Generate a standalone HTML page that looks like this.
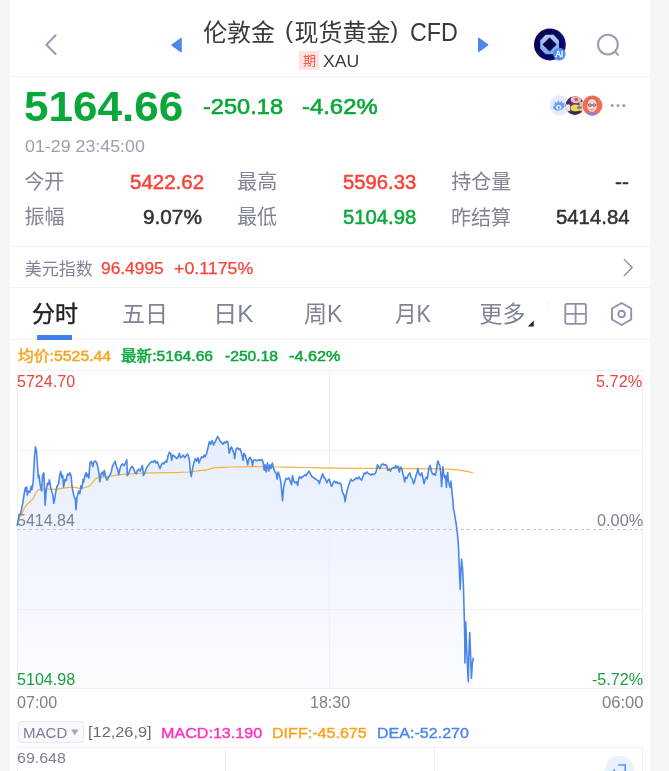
<!DOCTYPE html>
<html lang="zh-CN">
<head>
<meta charset="utf-8">
<title>伦敦金 (现货黄金) CFD</title>
<style>
*{margin:0;padding:0;box-sizing:border-box}
html,body{width:669px;height:771px;overflow:hidden;background:#f6f6f6}
body{font-family:"Liberation Sans","Noto Sans CJK SC",sans-serif;color:#222;position:relative}
#app{position:absolute;left:0;top:0;width:669px;height:771px;overflow:hidden}
#panel{position:absolute;left:10px;top:0;width:640px;height:771px;background:#fff}
.t{position:absolute;white-space:nowrap;line-height:1;transform-origin:0 0}
.hl{position:absolute;left:10px;width:640px;height:1px;background:#f2f2f8}
.abs{position:absolute}
svg{position:absolute;left:0;top:0;overflow:visible}
</style>
</head>
<body>
<div id="app">
<div id="panel"></div>
<div class="hl" style="top:76px"></div>
<div class="hl" style="top:246px"></div>
<div class="hl" style="top:287px"></div>
<div class="hl" style="top:339px"></div>
<div class="abs" id="badgebg" style="left:299.4px;top:50.6px;width:19.3px;height:19.4px;background:#fde2e0"></div>
<div class="abs" id="tabline" style="left:37px;top:335px;width:35px;height:4.5px;background:#4080ea"></div>
<div class="abs" id="macdbtn" style="left:17.6px;top:721.4px;width:66.6px;height:21.7px;background:#f8f9fd;border:1px solid #e6e8f3;border-radius:3px"></div>
<svg id="chart" width="669" height="771" viewBox="0 0 669 771">
<defs><linearGradient id="fg" x1="0" y1="430" x2="0" y2="688" gradientUnits="userSpaceOnUse"><stop offset="0" stop-color="#e6eefc"/><stop offset="1" stop-color="#fbfcff"/></linearGradient></defs>
<path d="M17.3,525.3 L18.9,515.6 L20.8,513.0 L22.8,502.6 L24.7,491.0 L25.4,487.7 L26.0,491.0 L26.7,487.1 L27.3,494.9 L28.6,491.0 L29.9,492.3 L31.2,486.4 L31.9,489.7 L33.2,481.9 L34.5,455.9 L35.5,446.9 L36.4,450.8 L37.7,468.9 L38.3,478.0 L39.0,475.4 L40.3,485.8 L41.6,491.0 L42.5,475.4 L43.8,472.8 L44.6,492.3 L45.1,505.2 L46.1,491.0 L47.4,483.2 L48.5,484.5 L49.4,479.9 L50.7,487.1 L52.0,492.3 L52.9,494.9 L53.7,503.3 L54.6,500.0 L55.9,491.0 L57.2,485.8 L58.5,484.5 L59.7,475.4 L60.7,471.5 L62.0,478.0 L62.7,475.4 L63.6,487.1 L64.9,479.3 L66.2,480.6 L67.5,474.1 L68.8,475.4 L69.7,472.8 L71.0,475.4 L72.1,487.1 L73.4,493.6 L74.4,497.4 L75.3,498.7 L76.0,509.8 L77.0,497.4 L78.6,491.0 L79.9,493.6 L80.9,485.8 L81.8,488.4 L83.1,479.3 L83.7,481.9 L85.0,475.4 L86.1,472.8 L87.0,476.7 L87.9,474.1 L88.9,478.0 L90.0,462.4 L90.0,463.0 L91.4,461.3 L92.7,466.6 L93.9,462.2 L95.4,460.9 L96.8,463.0 L98.1,468.4 L99.0,473.8 L99.9,481.9 L101.1,473.8 L102.6,472.0 L103.5,475.6 L104.3,470.2 L105.8,477.4 L107.0,480.1 L108.3,477.4 L109.7,475.6 L111.2,472.0 L112.4,466.6 L113.7,463.9 L115.1,461.3 L116.5,466.6 L117.8,470.2 L118.7,474.7 L120.1,468.4 L121.4,464.8 L122.6,463.9 L124.1,465.7 L125.5,463.0 L126.8,459.8 L127.3,475.6 L128.6,473.8 L130.4,468.4 L132.2,466.3 L133.4,468.4 L134.8,472.0 L136.3,473.8 L137.5,470.2 L138.8,469.3 L140.2,471.1 L141.7,467.0 L142.4,465.7 L143.5,475.6 L144.7,472.9 L146.0,469.3 L147.4,466.6 L148.8,464.8 L150.1,463.0 L151.9,461.3 L153.1,462.2 L154.6,460.4 L156.0,463.0 L157.3,461.6 L158.5,464.8 L160.0,468.4 L161.4,464.8 L162.6,463.0 L163.9,463.9 L165.3,461.3 L166.8,462.2 L168.0,455.9 L169.3,452.3 L170.7,453.2 L171.6,460.4 L172.9,455.0 L174.3,455.9 L175.7,457.7 L177.0,458.6 L178.3,456.8 L179.3,453.2 L180.6,457.7 L181.8,456.8 L183.3,455.0 L184.7,457.7 L186.0,455.9 L187.2,454.1 L188.3,455.0 L189.6,461.3 L190.4,472.0 L191.3,476.5 L192.6,468.4 L194.0,462.2 L195.5,458.6 L196.7,461.3 L198.0,457.7 L199.1,463.0 L200.3,459.5 L201.6,456.8 L203.0,457.7 L204.4,455.0 L205.0,456.8 L206.8,453.2 L208.2,446.9 L209.5,441.5 L210.7,444.2 L212.2,440.6 L213.6,445.1 L214.9,442.4 L216.1,439.7 L217.6,436.5 L219.0,438.8 L220.2,441.5 L221.5,442.4 L222.9,444.2 L224.4,441.9 L225.6,443.0 L226.9,441.2 L228.0,442.4 L229.2,453.2 L230.5,448.7 L231.5,446.9 L232.8,450.5 L234.1,454.1 L234.6,458.6 L235.9,449.6 L237.3,447.8 L238.7,449.6 L240.0,448.7 L241.2,452.3 L242.3,455.9 L243.0,460.4 L244.1,453.2 L245.4,455.9 L246.6,459.5 L247.7,464.8 L248.9,458.6 L250.2,457.7 L251.6,460.4 L252.5,465.7 L253.4,460.4 L255.2,459.8 L257.0,460.9 L258.8,459.8 L260.6,460.4 L262.0,459.5 L263.3,463.0 L264.2,470.2 L265.1,464.8 L266.0,472.0 L267.4,463.0 L268.7,471.1 L269.9,464.8 L271.0,468.4 L272.3,463.0 L273.5,468.4 L275.0,472.0 L276.4,473.8 L277.1,479.2 L278.2,472.0 L279.4,475.6 L280.7,481.0 L281.8,491.7 L282.5,500.7 L283.6,488.2 L284.8,481.9 L286.1,478.3 L287.5,479.2 L288.9,477.8 L290.2,481.0 L291.5,484.6 L292.5,475.6 L293.8,481.0 L295.0,482.8 L296.5,481.9 L297.7,485.5 L298.6,479.2 L299.7,476.5 L301.0,478.3 L302.2,477.0 L303.7,476.0 L305.1,474.7 L306.3,475.6 L307.6,472.9 L309.0,471.1 L310.5,473.8 L311.7,476.5 L313.0,477.4 L314.4,478.3 L315.9,479.2 L317.1,480.1 L318.4,481.0 L319.4,483.7 L320.0,481.0 L321.4,477.4 L322.7,473.8 L323.9,477.4 L325.4,478.8 L326.8,482.8 L328.1,480.1 L329.3,479.2 L330.4,483.7 L331.7,486.4 L332.9,483.7 L334.3,481.0 L335.8,482.8 L337.0,481.9 L338.3,483.7 L339.7,482.8 L341.2,484.6 L341.9,490.0 L343.0,493.5 L344.2,495.3 L345.1,501.6 L346.0,496.2 L346.9,491.7 L348.3,486.4 L349.6,482.8 L350.9,479.2 L352.3,481.0 L353.7,480.1 L355.0,479.2 L356.2,477.8 L357.7,478.8 L359.1,477.0 L360.4,479.2 L361.6,480.1 L363.0,476.5 L364.5,472.9 L365.7,473.8 L367.0,472.0 L368.4,473.5 L369.9,474.2 L371.1,475.2 L372.4,473.8 L373.8,474.7 L375.2,473.5 L376.5,470.2 L377.4,464.8 L378.8,467.0 L380.1,468.4 L381.3,464.8 L382.8,463.9 L384.2,465.2 L385.5,464.5 L386.7,465.7 L387.8,470.2 L389.1,469.3 L390.3,471.1 L391.7,468.4 L393.2,467.5 L394.4,468.1 L395.7,465.7 L396.8,467.5 L398.0,466.3 L399.3,472.0 L400.4,467.0 L401.6,468.4 L402.9,473.8 L403.9,477.4 L404.7,481.9 L405.7,477.4 L407.0,478.3 L408.3,474.7 L409.7,472.9 L411.1,477.4 L412.4,479.2 L413.6,483.7 L414.7,481.0 L416.0,475.6 L417.2,472.0 L417.8,468.4 L419.0,473.8 L420.4,475.6 L421.9,472.9 L423.1,479.2 L424.0,483.7 L425.0,479.7 L426.3,477.1 L427.3,479.0 L428.2,471.9 L429.2,467.3 L430.2,465.4 L431.2,470.6 L432.1,473.2 L433.0,474.5 L434.1,473.8 L435.4,475.1 L436.4,470.6 L437.3,462.8 L438.0,460.9 L439.0,464.1 L439.9,466.0 L440.8,473.2 L441.6,486.8 L442.3,477.1 L442.9,466.7 L443.8,474.5 L444.7,477.7 L445.5,475.8 L446.4,487.4 L447.0,477.1 L447.7,472.5 L448.3,481.0 L449.4,484.9 L450.3,487.4 L450.9,481.0 L451.6,487.4 L452.2,493.9 L452.9,500.4 L453.5,509.5 L453.9,510.0 L455.0,517.0 L456.2,524.0 L457.4,533.3 L458.5,547.4 L459.2,566.0 L460.2,589.4 L460.9,570.7 L461.6,559.0 L462.5,568.4 L463.4,584.7 L463.9,603.4 L464.4,622.1 L464.8,640.7 L464.9,662.9 L465.8,622.1 L466.7,650.1 L467.6,668.8 L468.3,681.6 L469.0,650.1 L469.7,632.6 L470.4,650.1 L471.4,678.1 L472.3,664.1 L473.2,658.3 L473.2,688 L17.3,688 Z" fill="url(#fg)"/>
<g fill="none" stroke="#eeeff8" stroke-width="1" shape-rendering="crispEdges">
<rect x="17.5" y="370.5" width="625" height="318"/>
<path d="M17,450.5 H642 M17,609.5 H642 M329.5,370 V688"/>
<path d="M17.5,747.5 H642.5 M17.5,747 V771 M642.5,747 V771 M225.5,747 V771 M434.5,747 V771"/>
</g>
<path d="M17,529.5 H642" stroke="#c2c3cb" stroke-width="1" stroke-dasharray="3 3" fill="none" shape-rendering="crispEdges"/>
<path d="M17.3,525.3 L18.9,518.2 L20.8,515.6 L22.8,511.7 L25.4,506.5 L28.0,503.3 L30.6,501.3 L33.2,498.7 L35.8,492.9 L38.3,489.9 L40.9,489.4 L47.4,489.0 L53.9,489.4 L60.4,488.6 L66.9,487.7 L72.1,487.1 L76.0,487.7 L79.9,488.4 L85.0,487.7 L88.9,486.4 L90.0,485.5 L93.6,481.0 L97.2,477.8 L100.8,477.4 L107.9,476.5 L116.9,475.2 L125.9,474.2 L134.8,473.5 L143.8,473.1 L152.8,472.9 L161.7,472.7 L170.7,472.6 L179.7,472.4 L188.7,472.0 L197.6,470.9 L204.8,469.9 L205.0,470.6 L208.6,469.3 L214.0,467.7 L222.9,467.4 L231.9,467.0 L240.9,466.8 L249.8,466.6 L258.8,466.6 L267.8,466.8 L276.7,467.0 L285.7,467.2 L294.7,467.4 L303.7,467.5 L312.6,467.7 L320.0,467.9 L337.9,468.1 L355.9,468.3 L373.8,468.4 L391.7,468.4 L409.7,468.6 L427.6,468.8 L431.5,468.8 L438.0,468.6 L444.5,469.0 L450.9,469.4 L457.4,469.9 L463.9,470.8 L469.1,471.9 L473.0,472.8" fill="none" stroke="#f7b13f" stroke-width="1.2" stroke-linejoin="round"/>
<path d="M17.3,525.3 L18.9,515.6 L20.8,513.0 L22.8,502.6 L24.7,491.0 L25.4,487.7 L26.0,491.0 L26.7,487.1 L27.3,494.9 L28.6,491.0 L29.9,492.3 L31.2,486.4 L31.9,489.7 L33.2,481.9 L34.5,455.9 L35.5,446.9 L36.4,450.8 L37.7,468.9 L38.3,478.0 L39.0,475.4 L40.3,485.8 L41.6,491.0 L42.5,475.4 L43.8,472.8 L44.6,492.3 L45.1,505.2 L46.1,491.0 L47.4,483.2 L48.5,484.5 L49.4,479.9 L50.7,487.1 L52.0,492.3 L52.9,494.9 L53.7,503.3 L54.6,500.0 L55.9,491.0 L57.2,485.8 L58.5,484.5 L59.7,475.4 L60.7,471.5 L62.0,478.0 L62.7,475.4 L63.6,487.1 L64.9,479.3 L66.2,480.6 L67.5,474.1 L68.8,475.4 L69.7,472.8 L71.0,475.4 L72.1,487.1 L73.4,493.6 L74.4,497.4 L75.3,498.7 L76.0,509.8 L77.0,497.4 L78.6,491.0 L79.9,493.6 L80.9,485.8 L81.8,488.4 L83.1,479.3 L83.7,481.9 L85.0,475.4 L86.1,472.8 L87.0,476.7 L87.9,474.1 L88.9,478.0 L90.0,462.4 L90.0,463.0 L91.4,461.3 L92.7,466.6 L93.9,462.2 L95.4,460.9 L96.8,463.0 L98.1,468.4 L99.0,473.8 L99.9,481.9 L101.1,473.8 L102.6,472.0 L103.5,475.6 L104.3,470.2 L105.8,477.4 L107.0,480.1 L108.3,477.4 L109.7,475.6 L111.2,472.0 L112.4,466.6 L113.7,463.9 L115.1,461.3 L116.5,466.6 L117.8,470.2 L118.7,474.7 L120.1,468.4 L121.4,464.8 L122.6,463.9 L124.1,465.7 L125.5,463.0 L126.8,459.8 L127.3,475.6 L128.6,473.8 L130.4,468.4 L132.2,466.3 L133.4,468.4 L134.8,472.0 L136.3,473.8 L137.5,470.2 L138.8,469.3 L140.2,471.1 L141.7,467.0 L142.4,465.7 L143.5,475.6 L144.7,472.9 L146.0,469.3 L147.4,466.6 L148.8,464.8 L150.1,463.0 L151.9,461.3 L153.1,462.2 L154.6,460.4 L156.0,463.0 L157.3,461.6 L158.5,464.8 L160.0,468.4 L161.4,464.8 L162.6,463.0 L163.9,463.9 L165.3,461.3 L166.8,462.2 L168.0,455.9 L169.3,452.3 L170.7,453.2 L171.6,460.4 L172.9,455.0 L174.3,455.9 L175.7,457.7 L177.0,458.6 L178.3,456.8 L179.3,453.2 L180.6,457.7 L181.8,456.8 L183.3,455.0 L184.7,457.7 L186.0,455.9 L187.2,454.1 L188.3,455.0 L189.6,461.3 L190.4,472.0 L191.3,476.5 L192.6,468.4 L194.0,462.2 L195.5,458.6 L196.7,461.3 L198.0,457.7 L199.1,463.0 L200.3,459.5 L201.6,456.8 L203.0,457.7 L204.4,455.0 L205.0,456.8 L206.8,453.2 L208.2,446.9 L209.5,441.5 L210.7,444.2 L212.2,440.6 L213.6,445.1 L214.9,442.4 L216.1,439.7 L217.6,436.5 L219.0,438.8 L220.2,441.5 L221.5,442.4 L222.9,444.2 L224.4,441.9 L225.6,443.0 L226.9,441.2 L228.0,442.4 L229.2,453.2 L230.5,448.7 L231.5,446.9 L232.8,450.5 L234.1,454.1 L234.6,458.6 L235.9,449.6 L237.3,447.8 L238.7,449.6 L240.0,448.7 L241.2,452.3 L242.3,455.9 L243.0,460.4 L244.1,453.2 L245.4,455.9 L246.6,459.5 L247.7,464.8 L248.9,458.6 L250.2,457.7 L251.6,460.4 L252.5,465.7 L253.4,460.4 L255.2,459.8 L257.0,460.9 L258.8,459.8 L260.6,460.4 L262.0,459.5 L263.3,463.0 L264.2,470.2 L265.1,464.8 L266.0,472.0 L267.4,463.0 L268.7,471.1 L269.9,464.8 L271.0,468.4 L272.3,463.0 L273.5,468.4 L275.0,472.0 L276.4,473.8 L277.1,479.2 L278.2,472.0 L279.4,475.6 L280.7,481.0 L281.8,491.7 L282.5,500.7 L283.6,488.2 L284.8,481.9 L286.1,478.3 L287.5,479.2 L288.9,477.8 L290.2,481.0 L291.5,484.6 L292.5,475.6 L293.8,481.0 L295.0,482.8 L296.5,481.9 L297.7,485.5 L298.6,479.2 L299.7,476.5 L301.0,478.3 L302.2,477.0 L303.7,476.0 L305.1,474.7 L306.3,475.6 L307.6,472.9 L309.0,471.1 L310.5,473.8 L311.7,476.5 L313.0,477.4 L314.4,478.3 L315.9,479.2 L317.1,480.1 L318.4,481.0 L319.4,483.7 L320.0,481.0 L321.4,477.4 L322.7,473.8 L323.9,477.4 L325.4,478.8 L326.8,482.8 L328.1,480.1 L329.3,479.2 L330.4,483.7 L331.7,486.4 L332.9,483.7 L334.3,481.0 L335.8,482.8 L337.0,481.9 L338.3,483.7 L339.7,482.8 L341.2,484.6 L341.9,490.0 L343.0,493.5 L344.2,495.3 L345.1,501.6 L346.0,496.2 L346.9,491.7 L348.3,486.4 L349.6,482.8 L350.9,479.2 L352.3,481.0 L353.7,480.1 L355.0,479.2 L356.2,477.8 L357.7,478.8 L359.1,477.0 L360.4,479.2 L361.6,480.1 L363.0,476.5 L364.5,472.9 L365.7,473.8 L367.0,472.0 L368.4,473.5 L369.9,474.2 L371.1,475.2 L372.4,473.8 L373.8,474.7 L375.2,473.5 L376.5,470.2 L377.4,464.8 L378.8,467.0 L380.1,468.4 L381.3,464.8 L382.8,463.9 L384.2,465.2 L385.5,464.5 L386.7,465.7 L387.8,470.2 L389.1,469.3 L390.3,471.1 L391.7,468.4 L393.2,467.5 L394.4,468.1 L395.7,465.7 L396.8,467.5 L398.0,466.3 L399.3,472.0 L400.4,467.0 L401.6,468.4 L402.9,473.8 L403.9,477.4 L404.7,481.9 L405.7,477.4 L407.0,478.3 L408.3,474.7 L409.7,472.9 L411.1,477.4 L412.4,479.2 L413.6,483.7 L414.7,481.0 L416.0,475.6 L417.2,472.0 L417.8,468.4 L419.0,473.8 L420.4,475.6 L421.9,472.9 L423.1,479.2 L424.0,483.7 L425.0,479.7 L426.3,477.1 L427.3,479.0 L428.2,471.9 L429.2,467.3 L430.2,465.4 L431.2,470.6 L432.1,473.2 L433.0,474.5 L434.1,473.8 L435.4,475.1 L436.4,470.6 L437.3,462.8 L438.0,460.9 L439.0,464.1 L439.9,466.0 L440.8,473.2 L441.6,486.8 L442.3,477.1 L442.9,466.7 L443.8,474.5 L444.7,477.7 L445.5,475.8 L446.4,487.4 L447.0,477.1 L447.7,472.5 L448.3,481.0 L449.4,484.9 L450.3,487.4 L450.9,481.0 L451.6,487.4 L452.2,493.9 L452.9,500.4 L453.5,509.5 L453.9,510.0 L455.0,517.0 L456.2,524.0 L457.4,533.3 L458.5,547.4 L459.2,566.0 L460.2,589.4 L460.9,570.7 L461.6,559.0 L462.5,568.4 L463.4,584.7 L463.9,603.4 L464.4,622.1 L464.8,640.7 L464.9,662.9 L465.8,622.1 L466.7,650.1 L467.6,668.8 L468.3,681.6 L469.0,650.1 L469.7,632.6 L470.4,650.1 L471.4,678.1 L472.3,664.1 L473.2,658.3" fill="none" stroke="#4a86e8" stroke-width="1.6" stroke-linejoin="round" stroke-linecap="round"/>
</svg>
<svg id="icons" width="669" height="771" viewBox="0 0 669 771">
<defs>
<radialGradient id="aig" cx="0.4" cy="0.45" r="0.65"><stop offset="0" stop-color="#04023f"/><stop offset="0.7" stop-color="#0a0760"/><stop offset="1" stop-color="#15149a"/></radialGradient>
<linearGradient id="octg" x1="0" y1="0" x2="0" y2="1"><stop offset="0" stop-color="#b4ccf8"/><stop offset="1" stop-color="#7aa6ea"/></linearGradient>
<clipPath id="cp2"><circle cx="574.9" cy="105.5" r="9.3"/></clipPath>
<clipPath id="cp3"><circle cx="592.3" cy="105.5" r="10"/></clipPath>
<clipPath id="cpb"><rect x="600" y="750" width="40" height="21"/></clipPath>
</defs>
<!-- back -->
<path d="M55.6,35.3 L46.4,44.7 L55.6,54.1" fill="none" stroke="#9a9fb5" stroke-width="2.1" stroke-linecap="round" stroke-linejoin="round"/>
<!-- prev / next -->
<path d="M172,45.1 L181.1,38.5 V51.7 Z" fill="#4a88ea" stroke="#4a88ea" stroke-width="1.3" stroke-linejoin="round"/>
<path d="M487.7,44.9 L478.7,38.4 V51.6 Z" fill="#4a88ea" stroke="#4a88ea" stroke-width="1.3" stroke-linejoin="round"/>
<!-- AI -->
<circle cx="549.9" cy="44.5" r="15.9" fill="url(#aig)"/>
<path d="M545.6,34.8 H553.6 L559,40.4 V48.5 L553.6,54.2 H545.6 L540.2,48.5 V40.4 Z" fill="url(#octg)"/>
<path d="M549.6,37.4 L556.7,44.5 L549.6,51.5 L542.5,44.5 Z" fill="#07044c"/>
<circle cx="559.3" cy="54.1" r="6.3" fill="#4a8df0"/>
<text x="559.3" y="56.8" font-family="Liberation Sans, sans-serif" font-size="8.2" fill="#fff" stroke="#fff" stroke-width="0.35" text-anchor="middle">AI</text>
<!-- search -->
<circle cx="607.9" cy="44.6" r="9.9" fill="none" stroke="#9a9fb5" stroke-width="2.1"/>
<path d="M615.1,51.8 L618.1,54.8" stroke="#9a9fb5" stroke-width="2.1" stroke-linecap="round"/>
<!-- avatars -->
<circle cx="559.6" cy="105.4" r="10.1" fill="#e3ecfd"/>
<g fill="#6a9cf0">
<path d="M552.7,107.6 C554.4,104.6 557.2,103.6 559.4,103.7 C561.6,103.8 563.4,104.9 564.6,106.6 C563.2,109.4 560.6,110.7 558.4,110.7 C556,110.7 553.8,109.6 552.7,107.6 Z"/>
<path d="M554.2,104.9 L555.2,101.3 L556.8,103.4 L558.4,100.3 L559.9,103.1 L561.8,100.6 L562.5,103.5 L564.5,102.1 L564.3,105.8 Z"/>
</g>
<ellipse cx="558.7" cy="107.3" rx="2.7" ry="2.3" fill="#eef3fe"/>
<circle cx="558.9" cy="107.4" r="1.25" fill="#6a9cf0"/>
<circle cx="574.9" cy="105.5" r="10" fill="#f3eef2"/>
<g clip-path="url(#cp2)">
<rect x="564" y="94" width="22" height="23" fill="#5c3e68"/>
<rect x="564" y="94" width="7" height="12" fill="#4a2f58"/>
<ellipse cx="576" cy="99.6" rx="5.4" ry="3.6" fill="#efb9c4"/>
<circle cx="576.2" cy="99.4" r="1.7" fill="#d24a68"/>
<rect x="579.5" y="102" width="6" height="9" fill="#b7d6b2"/>
<ellipse cx="575.4" cy="108" rx="5" ry="3.4" fill="#e9d94c"/>
<rect x="566" y="104.5" width="4" height="6.5" fill="#e9e6ee"/>
<rect x="566" y="111.5" width="18" height="5" fill="#3d2c40"/>
<rect x="577" y="106.6" width="5" height="2" fill="#6b7a5a"/>
</g>
<circle cx="592.3" cy="105.5" r="10.6" fill="#fdf0ee"/>
<circle cx="592.3" cy="105.5" r="10" fill="#f7695a"/>
<g clip-path="url(#cp3)">
<path d="M585.8,117 C586.2,113.4 588.6,112.6 592.2,112.6 C595.8,112.6 598.4,113.4 598.8,117 Z" fill="#7388e2"/>
<ellipse cx="592.1" cy="105.4" rx="5" ry="6.6" fill="#f6d6cb"/>
<path d="M587.2,105 H597" stroke="#5a4444" stroke-width="0.6"/>
<circle cx="589.9" cy="105.2" r="1.5" fill="none" stroke="#5a4444" stroke-width="0.6"/>
<circle cx="594.3" cy="105.2" r="1.5" fill="none" stroke="#5a4444" stroke-width="0.6"/>
<path d="M590.6,109.6 Q592.1,110.3 593.6,109.6" stroke="#8a5a5a" stroke-width="0.6" fill="none"/>
<path d="M587.1,104 C587.2,100.2 589.2,98.7 592.1,98.7 C595,98.7 597,100.2 597.1,104" stroke="#6a5050" stroke-width="0.5" fill="none"/>
</g>
<g fill="#9a9fb5"><circle cx="612.2" cy="105.5" r="1.6"/><circle cx="618" cy="105.5" r="1.6"/><circle cx="623.8" cy="105.5" r="1.6"/></g>
<!-- usd chevron -->
<path d="M624.2,259.4 L632.2,267.5 L624.2,275.6" fill="none" stroke="#8a8a8a" stroke-width="1.3" stroke-linecap="round" stroke-linejoin="round"/>
<!-- more triangle -->
<path d="M527.8,326.5 H533.7 V320.6 Z" fill="#222"/>
<rect x="547" y="302" width="1" height="3" fill="#ececf2"/>
<!-- grid icon -->
<g fill="none" stroke="#8d92a8" stroke-width="1.8">
<rect x="565.3" y="303.8" width="20.6" height="20" rx="1.8"/>
<path d="M575.6,303.8 V323.8 M565.3,313.8 H585.9"/>
</g>
<!-- hexagon icon -->
<g fill="none" stroke="#8d92a8" stroke-width="1.9" stroke-linejoin="round">
<path d="M621.6,303 L631.2,308.5 V319.5 L621.6,325 L612,319.5 V308.5 Z"/>
<circle cx="621.6" cy="314" r="3.3"/>
</g>
<!-- macd caret -->
<path d="M71.1,729.6 H78.5 L74.8,735.3 Z" fill="#a2a6b6"/>
<!-- float button -->
<g clip-path="url(#cpb)">
<circle cx="619.4" cy="770.4" r="14.6" fill="#eaf1fe"/>
<path d="M618.3,765 H625.2 V772 M614.2,769 V772" fill="none" stroke="#5b93f0" stroke-width="1.6"/>
</g>
</svg>

<div class="t" id="t1" style="left:203.13px;top:20.67px;font-size:24.00px;color:#3a3a3a">伦敦金</div>
<div class="t" id="t2" style="left:285.08px;top:17.72px;font-size:24.00px;color:#3a3a3a">(</div>
<div class="t" id="t3" style="left:294.59px;top:20.56px;font-size:24.00px;color:#3a3a3a">现货黄金</div>
<div class="t" id="t4" style="left:390.17px;top:17.69px;font-size:24.00px;color:#3a3a3a">)</div>
<div class="t" id="t5" style="left:409.60px;top:19.63px;font-size:25.41px;color:#3a3a3a;transform:scaleX(0.918)">CFD</div>
<div class="t" id="badge" style="left:303.11px;top:53.57px;font-size:13.00px;color:#f5574b">期</div>
<div class="t" id="sub" style="left:322.62px;top:53.53px;font-size:16.92px;color:#3a3a3a;transform:scaleX(1.045)">XAU</div>
<div class="t" id="price" style="left:23.64px;top:84.67px;font-size:42.72px;color:#0aa83a;transform:scaleX(1.032);font-weight:bold">5164.66</div>
<div class="t" id="chg" style="left:202.59px;top:95.68px;font-size:21.73px;color:#0aa83a;transform:scaleX(1.086);-webkit-text-stroke:0.6px #0aa83a">-250.18</div>
<div class="t" id="pct" style="left:301.70px;top:95.68px;font-size:21.73px;color:#0aa83a;transform:scaleX(1.099);-webkit-text-stroke:0.6px #0aa83a">-4.62%</div>
<div class="t" id="time" style="left:24.69px;top:138.81px;font-size:15.92px;color:#9a9eae;transform:scaleX(1.120)">01-29 23:45:00</div>
<div class="t" id="l1" style="left:24.15px;top:171.77px;font-size:20.00px;color:#7f8495">今开</div>
<div class="t" id="v1" style="left:129.52px;top:172.87px;font-size:19.97px;color:#fa4037;transform:scaleX(1.027);-webkit-text-stroke:0.5px #fa4037">5422.62</div>
<div class="t" id="l2" style="left:237.37px;top:171.58px;font-size:20.00px;color:#7f8495">最高</div>
<div class="t" id="v2" style="left:342.62px;top:172.87px;font-size:19.97px;color:#fa4037;transform:scaleX(1.014);-webkit-text-stroke:0.5px #fa4037">5596.33</div>
<div class="t" id="l3" style="left:451.31px;top:171.69px;font-size:20.00px;color:#7f8495">持仓量</div>
<div class="t" id="v3" style="left:614.57px;top:171.53px;font-size:20.00px;color:#333;transform:scaleX(1.039);-webkit-text-stroke:0.5px #333">--</div>
<div class="t" id="l4" style="left:24.48px;top:206.92px;font-size:20.00px;color:#7f8495">振幅</div>
<div class="t" id="v4" style="left:142.71px;top:207.84px;font-size:19.97px;color:#333;transform:scaleX(1.041);-webkit-text-stroke:0.5px #333">9.07%</div>
<div class="t" id="l5" style="left:237.13px;top:206.75px;font-size:20.00px;color:#7f8495">最低</div>
<div class="t" id="v5" style="left:342.80px;top:207.85px;font-size:19.97px;color:#0aa83a;transform:scaleX(1.015);-webkit-text-stroke:0.5px #0aa83a">5104.98</div>
<div class="t" id="l6" style="left:450.93px;top:207.55px;font-size:20.00px;color:#7f8495">昨结算</div>
<div class="t" id="v6" style="left:555.73px;top:207.84px;font-size:19.97px;color:#333;transform:scaleX(1.019);-webkit-text-stroke:0.5px #333">5414.84</div>
<div class="t" id="usd" style="left:24.87px;top:260.50px;font-size:17.00px;color:#7f8495">美元指数</div>
<div class="t" id="usdv" style="left:100.65px;top:260.63px;font-size:16.57px;color:#fa4037;transform:scaleX(1.047);-webkit-text-stroke:0.25px #fa4037">96.4995</div>
<div class="t" id="usdp" style="left:173.79px;top:260.62px;font-size:16.57px;color:#fa4037;transform:scaleX(1.074);-webkit-text-stroke:0.25px #fa4037">+0.1175%</div>
<div class="t" id="tab1" style="left:31.97px;top:302.59px;font-size:23.00px;color:#222;-webkit-text-stroke:0.4px #222">分时</div>
<div class="t" id="tab2" style="left:122.11px;top:302.63px;font-size:23.00px;color:#7f8495">五日</div>
<div class="t" id="tab3" style="left:212.61px;top:302.63px;font-size:23.00px;color:#7f8495;transform:scaleX(1.058)">日K</div>
<div class="t" id="tab4" style="left:303.62px;top:302.75px;font-size:23.00px;color:#7f8495;transform:scaleX(1.005)">周K</div>
<div class="t" id="tab5" style="left:394.57px;top:302.58px;font-size:23.00px;color:#7f8495;transform:scaleX(0.939)">月K</div>
<div class="t" id="tab6" style="left:479.43px;top:302.83px;font-size:23.00px;color:#7f8495">更多</div>
<div class="t" id="lg1" style="left:17.66px;top:347.63px;font-size:15.00px;color:#f6a623;transform:scaleX(1.054);-webkit-text-stroke:0.5px #f6a623">均价:5525.44</div>
<div class="t" id="lg2" style="left:120.83px;top:347.57px;font-size:15.00px;color:#0aa83a;transform:scaleX(1.041);-webkit-text-stroke:0.5px #0aa83a">最新:5164.66</div>
<div class="t" id="lg3" style="left:224.67px;top:348.51px;font-size:14.59px;color:#0aa83a;transform:scaleX(1.073);-webkit-text-stroke:0.5px #0aa83a">-250.18</div>
<div class="t" id="lg4" style="left:288.64px;top:348.52px;font-size:14.59px;color:#0aa83a;transform:scaleX(1.112);-webkit-text-stroke:0.5px #0aa83a">-4.62%</div>
<div class="t" id="c1" style="left:17.01px;top:372.70px;font-size:16.07px;color:#e8453c">5724.70</div>
<div class="t" id="c2" style="left:595.50px;top:372.70px;font-size:16.07px;color:#e8453c;transform:scaleX(1.015)">5.72%</div>
<div class="t" id="c3" style="left:16.52px;top:511.74px;font-size:16.07px;color:#7c8090;transform:scaleX(0.995)">5414.84</div>
<div class="t" id="c4" style="left:596.69px;top:511.73px;font-size:16.07px;color:#7c8090;transform:scaleX(1.014)">0.00%</div>
<div class="t" id="c5" style="left:16.69px;top:670.60px;font-size:16.07px;color:#1a9e3f;transform:scaleX(1.002)">5104.98</div>
<div class="t" id="c6" style="left:591.73px;top:670.60px;font-size:16.07px;color:#1a9e3f;transform:scaleX(1.003)">-5.72%</div>
<div class="t" id="x1" style="left:16.97px;top:694.71px;font-size:15.65px;color:#7c8090;transform:scaleX(1.028)">07:00</div>
<div class="t" id="x2" style="left:309.62px;top:694.69px;font-size:15.65px;color:#7c8090;transform:scaleX(1.024)">18:30</div>
<div class="t" id="x3" style="left:601.73px;top:694.75px;font-size:15.65px;color:#7c8090;transform:scaleX(1.063)">06:00</div>
<div class="t" id="m0" style="left:22.56px;top:725.50px;font-size:14.86px;color:#7c8092;transform:scaleX(1.011)">MACD</div>
<div class="t" id="m1" style="left:87.74px;top:724.86px;font-size:14.92px;color:#666b7a;transform:scaleX(1.096)">[12,26,9]</div>
<div class="t" id="m2" style="left:160.70px;top:724.50px;font-size:15.45px;color:#ff2fc0;transform:scaleX(1.043);-webkit-text-stroke:0.4px #ff2fc0">MACD:13.190</div>
<div class="t" id="m3" style="left:271.74px;top:724.74px;font-size:15.45px;color:#ff9f1a;transform:scaleX(1.042);-webkit-text-stroke:0.4px #ff9f1a">DIFF:-45.675</div>
<div class="t" id="m4" style="left:376.56px;top:724.55px;font-size:15.45px;color:#4a86e8;transform:scaleX(1.040);-webkit-text-stroke:0.4px #4a86e8">DEA:-52.270</div>
<div class="t" id="m5" style="left:16.55px;top:749.68px;font-size:15.30px;color:#7c8090;transform:scaleX(1.045)">69.648</div>
</div>
</body>
</html>
